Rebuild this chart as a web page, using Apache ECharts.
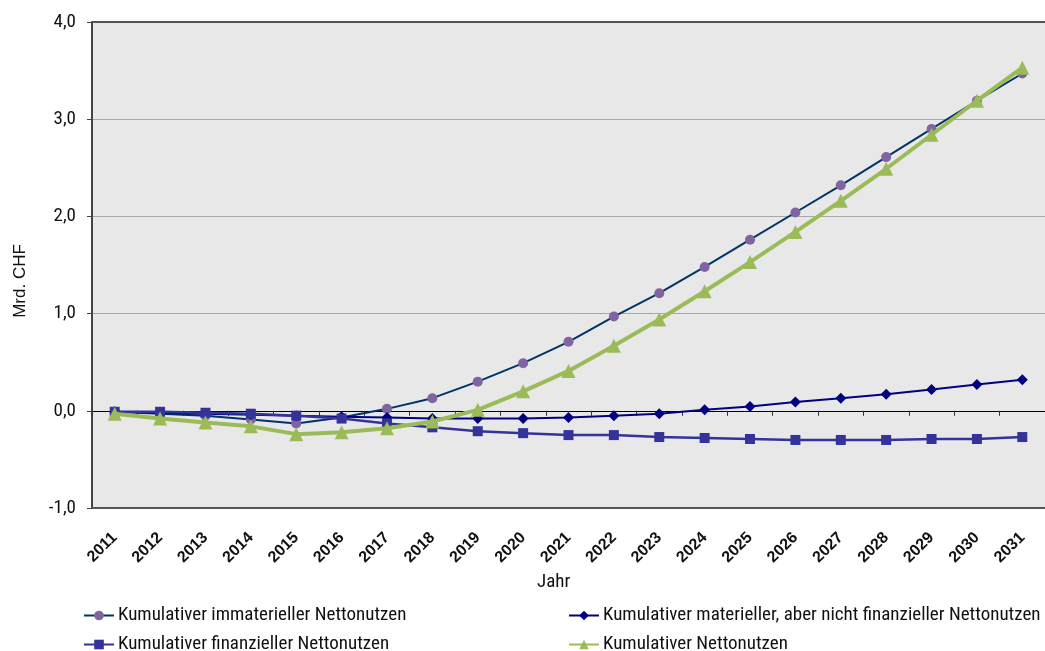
<!DOCTYPE html>
<html>
<head>
<meta charset="utf-8">
<script src="https://cdn.jsdelivr.net/npm/echarts@6/dist/echarts.min.js"></script>
<style>
  html, body { margin: 0; padding: 0; background: #ffffff; }
  #chart { width: 1045px; height: 651px; }
</style>
</head>
<body>
<div id="chart"></div>
<script>
const years = ['2011','2012','2013','2014','2015','2016','2017','2018','2019','2020','2021','2022','2023','2024','2025','2026','2027','2028','2029','2030','2031'];

const seriesNames = [
  'Kumulativer immaterieller Nettonutzen',
  'Kumulativer materieller, aber nicht finanzieller Nettonutzen',
  'Kumulativer finanzieller Nettonutzen',
  'Kumulativer Nettonutzen'
];

const immateriell = [-0.01, -0.03, -0.05, -0.09, -0.13, -0.07, 0.02, 0.13, 0.30, 0.49, 0.71, 0.97, 1.21, 1.48, 1.76, 2.04, 2.32, 2.61, 2.90, 3.19, 3.47];
const materiell   = [-0.01, -0.02, -0.03, -0.04, -0.05, -0.06, -0.07, -0.08, -0.08, -0.08, -0.07, -0.05, -0.03, 0.01, 0.045, 0.09, 0.13, 0.17, 0.22, 0.27, 0.32];
const finanziell  = [-0.01, -0.01, -0.02, -0.03, -0.05, -0.08, -0.13, -0.17, -0.21, -0.23, -0.25, -0.25, -0.27, -0.28, -0.29, -0.30, -0.30, -0.30, -0.29, -0.29, -0.27];
const total       = [-0.03, -0.08, -0.12, -0.16, -0.24, -0.22, -0.18, -0.11, 0.01, 0.20, 0.41, 0.67, 0.94, 1.23, 1.53, 1.84, 2.16, 2.49, 2.84, 3.19, 3.53];

const yTicks = { min: -1, max: 4, interval: 1 };

const narrow = '"Roboto Condensed", "DejaVu Sans Condensed", sans-serif';
const arial = '"Liberation Sans", Arial, sans-serif';

const chart = echarts.init(document.getElementById('chart'), null, { renderer: 'canvas' });

function legendAt(left, top, name) {
  return {
    left: left, top: top, orient: 'horizontal',
    itemWidth: 30, itemHeight: 12, itemGap: 0,
    textStyle: { fontFamily: narrow, fontSize: 19, color: '#111', padding: [0, 0, 0, -1] },
    data: [name]
  };
}

const option = {
  backgroundColor: '#ffffff',
  animation: false,
  grid: {
    left: 92, right: 0, top: 22, bottom: 143,
    show: true, backgroundColor: '#e8e8e8', borderWidth: 0
  },
  legend: [
    legendAt(78, 601, seriesNames[0]),
    legendAt(563, 601, seriesNames[1]),
    legendAt(78, 630, seriesNames[2]),
    legendAt(563, 630, seriesNames[3])
  ],
  graphic: [
    { type: 'text', left: 537, top: 573, style: { text: 'Jahr', font: '19px ' + narrow, fill: '#111' } },
    { type: 'text', x: 20, y: 281, rotation: Math.PI / 2,
      style: { text: 'Mrd. CHF', font: '17px ' + arial, fill: '#111', align: 'center', verticalAlign: 'middle' } }
  ],
  xAxis: [
    {
      type: 'category', data: years, position: 'bottom', boundaryGap: true,
      axisLine: { onZero: false, lineStyle: { color: '#555', width: 2 } },
      axisTick: { show: false },
      axisLabel: { rotate: 45, margin: 27, fontFamily: arial, fontWeight: 'bold', fontSize: 16, color: '#111', interval: 0 },
      splitLine: { show: false }
    },
    {
      type: 'category', data: years, position: 'bottom', boundaryGap: true,
      axisLine: { onZero: true, lineStyle: { color: '#000', width: 1 } },
      axisTick: { show: true, length: 5, lineStyle: { color: '#333' } },
      axisLabel: { show: false },
      splitLine: { show: false }
    },
    {
      type: 'category', data: years, position: 'top', boundaryGap: true,
      axisLine: { onZero: false, lineStyle: { color: '#555', width: 2 } },
      axisTick: { show: false },
      axisLabel: { show: false },
      splitLine: { show: false }
    }
  ],
  yAxis: {
    type: 'value', min: yTicks.min, max: yTicks.max, interval: yTicks.interval,
    axisLine: { show: true, onZero: false, lineStyle: { color: '#444', width: 2 } },
    axisTick: { show: true, length: 5, lineStyle: { color: '#444' } },
    axisLabel: {
      margin: 16, fontFamily: narrow, fontSize: 19, color: '#111',
      formatter: v => v.toFixed(1).replace('.', ',')
    },
    splitLine: { show: true, lineStyle: { color: '#a8a8a8', width: 1 } }
  },
  series: [
    {
      name: seriesNames[0], type: 'line', data: immateriell, xAxisIndex: 0,
      symbol: 'circle', symbolSize: 10,
      lineStyle: { color: '#003366', width: 2 },
      itemStyle: { color: '#8064A2' }, z: 3
    },
    {
      name: seriesNames[1], type: 'line', data: materiell, xAxisIndex: 0,
      symbol: 'diamond', symbolSize: 11,
      lineStyle: { color: '#000080', width: 2 },
      itemStyle: { color: '#000080' }, z: 4
    },
    {
      name: seriesNames[2], type: 'line', data: finanziell, xAxisIndex: 0,
      symbol: 'rect', symbolSize: 10,
      lineStyle: { color: '#333399', width: 2.5 },
      itemStyle: { color: '#333399' }, z: 5
    },
    {
      name: seriesNames[3], type: 'line', data: total, xAxisIndex: 0,
      symbol: 'triangle', symbolSize: 14,
      lineStyle: { color: '#9BBB59', width: 4 },
      itemStyle: { color: '#9BBB59' }, z: 6
    }
  ]
};

chart.setOption(option);
</script>
</body>
</html>
